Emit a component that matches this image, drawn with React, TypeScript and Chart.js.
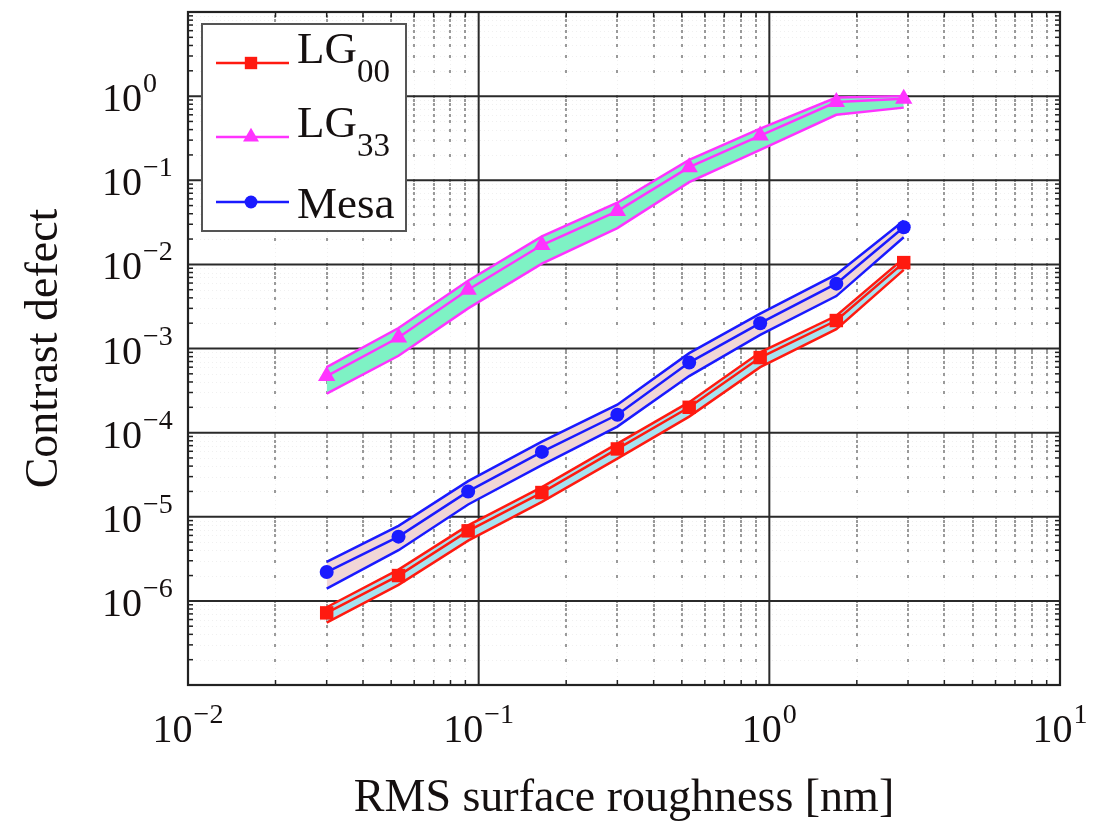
import React, { useEffect, useRef } from 'react';
import { Chart, registerables } from 'chart.js';

Chart.register(...registerables);

// ---------------- data ----------------
const roughness = [0.03, 0.053, 0.092, 0.165, 0.3, 0.53, 0.93, 1.7, 2.9];

const lg00 = [7.2e-7, 2.0e-6, 6.8e-6, 1.94e-5, 6.4e-5, 2.0e-4, 7.8e-4, 2.15e-3, 1.05e-2];
const lg00Upper = [8.4e-7, 2.35e-6, 7.9e-6, 2.25e-5, 7.4e-5, 2.3e-4, 9.0e-4, 2.45e-3, 1.18e-2];
const lg00Lower = [5.5e-7, 1.55e-6, 5.2e-6, 1.5e-5, 4.9e-5, 1.55e-4, 6.0e-4, 1.7e-3, 8.6e-3];

const lg33 = [4.7e-4, 1.35e-3, 5.0e-3, 1.7e-2, 4.3e-2, 0.143, 0.34, 0.85, 0.93];
const lg33Upper = [6.0e-4, 1.75e-3, 6.4e-3, 2.15e-2, 5.4e-2, 0.175, 0.41, 0.96, 1.0];
const lg33Lower = [2.9e-4, 0.82e-3, 3.0e-3, 1.02e-2, 2.7e-2, 0.095, 0.23, 0.6, 0.73];

const mesa = [2.2e-6, 5.8e-6, 2.0e-5, 5.9e-5, 1.63e-4, 6.8e-4, 2.0e-3, 5.9e-3, 2.76e-2];
const mesaUpper = [2.9e-6, 7.8e-6, 2.65e-5, 7.8e-5, 2.15e-4, 8.8e-4, 2.6e-3, 7.6e-3, 3.3e-2];
const mesaLower = [1.4e-6, 4.0e-6, 1.4e-5, 4.1e-5, 1.18e-4, 4.7e-4, 1.45e-3, 4.2e-3, 2.1e-2];

const seriesNames = ['LG', 'LG', 'Mesa'];
const seriesSubscripts = ['00', '33', ''];
const seriesColors = ['#ff1a10', '#ff33ff', '#1a1aff'];
const bandFills = ['#a6e3f0', '#7ef2c4', '#f1d6d6'];
const pointStyles = ['rect', 'triangle', 'circle'];
const pointRadii = [9.5, 10, 7];

const tickBase = '10';
const xTickValues = [0.01, 0.1, 1, 10];
const xTickExponents = ['−2', '−1', '0', '1'];
const yTickValues = [1e-6, 1e-5, 1e-4, 1e-3, 1e-2, 1e-1, 1];
const yTickExponents = ['−6', '−5', '−4', '−3', '−2', '−1', '0'];

const xTitle = 'RMS surface roughness [nm]';
const yTitle = 'Contrast defect';

const FONT = '"Liberation Serif", "DejaVu Serif", serif';
const TEXT = '#151010';

// minor grid values (2..9 within each decade)
function minorValues(fromExp: number, toExp: number): number[] {
  const out: number[] = [];
  for (let e = fromExp; e < toExp; e++) {
    for (let m = 2; m <= 9; m++) out.push(parseFloat((m * Math.pow(10, e)).toPrecision(3)));
  }
  return out;
}
const xMinor = minorValues(-2, 1);
const yMinor = minorValues(-7, 1);

function drawPower(ctx: any, exp: string, x: number, baseline: number, center: boolean) {
  ctx.font = `40px ${FONT}`;
  const w1 = ctx.measureText(tickBase).width;
  ctx.font = `28px ${FONT}`;
  const w2 = ctx.measureText(exp).width;
  const start = center ? x - (w1 + 1 + w2) / 2 : x;
  ctx.textAlign = 'left';
  ctx.textBaseline = 'alphabetic';
  ctx.fillStyle = TEXT;
  ctx.font = `40px ${FONT}`;
  ctx.fillText(tickBase, start, baseline);
  ctx.font = `28px ${FONT}`;
  ctx.fillText(exp, start + w1 + 1, baseline - 19);
}

const gridPlugin = {
  id: 'customGrid',
  beforeDatasetsDraw(chart: any) {
    const { ctx, chartArea: a, scales } = chart;
    const xs = scales.x;
    const ys = scales.y;
    ctx.save();
    ctx.beginPath();
    ctx.rect(a.left, a.top, a.right - a.left, a.bottom - a.top);
    ctx.clip();
    ctx.strokeStyle = 'rgba(0,0,0,0.06)';
    ctx.lineWidth = 1;
    ctx.setLineDash([1, 3]);
    xMinor.forEach((v) => {
      const px = Math.round(xs.getPixelForValue(v)) + 0.5;
      ctx.beginPath();
      ctx.moveTo(px, a.top);
      ctx.lineTo(px, a.bottom);
      ctx.stroke();
    });
    yMinor.forEach((v) => {
      const py = Math.round(ys.getPixelForValue(v)) + 0.5;
      ctx.beginPath();
      ctx.moveTo(a.left, py);
      ctx.lineTo(a.right, py);
      ctx.stroke();
    });
    ctx.setLineDash([]);
    ctx.fillStyle = '#9a9a9a';
    const allY = yMinor.concat(yTickValues);
    xMinor.forEach((vx) => {
      allY.forEach((vy) => {
        const px = Math.round(xs.getPixelForValue(vx));
        const py = Math.round(ys.getPixelForValue(vy));
        ctx.fillRect(px - 1, py - 1, 2, 3);
      });
    });
    ctx.strokeStyle = '#2a2a2a';
    ctx.lineWidth = 2;
    xTickValues.forEach((v) => {
      const px = xs.getPixelForValue(v);
      ctx.beginPath();
      ctx.moveTo(px, a.top);
      ctx.lineTo(px, a.bottom);
      ctx.stroke();
    });
    yTickValues.forEach((v) => {
      const py = ys.getPixelForValue(v);
      ctx.beginPath();
      ctx.moveTo(a.left, py);
      ctx.lineTo(a.right, py);
      ctx.stroke();
    });
    ctx.restore();
  },
  afterDatasetsDraw(chart: any) {
    const { ctx, chartArea: a, scales } = chart;
    const xs = scales.x;
    const ys = scales.y;
    ctx.save();
    ctx.strokeStyle = '#222';
    ctx.lineWidth = 1.5;
    const tick = (x1: number, y1: number, x2: number, y2: number) => {
      ctx.beginPath();
      ctx.moveTo(x1, y1);
      ctx.lineTo(x2, y2);
      ctx.stroke();
    };
    xMinor.forEach((v) => {
      const px = xs.getPixelForValue(v);
      tick(px, a.top, px, a.top + 5);
      tick(px, a.bottom, px, a.bottom - 5);
    });
    yMinor.forEach((v) => {
      const py = ys.getPixelForValue(v);
      tick(a.left, py, a.left + 5, py);
      tick(a.right, py, a.right - 5, py);
    });
    ctx.strokeStyle = '#222';
    ctx.lineWidth = 2.2;
    ctx.strokeRect(a.left, a.top, a.right - a.left, a.bottom - a.top);
    ctx.restore();
  },
  afterDraw(chart: any) {
    const { ctx, scales } = chart;
    const xs = scales.x;
    const ys = scales.y;
    // tick labels
    ctx.save();
    xTickValues.forEach((v, i) => {
      drawPower(ctx, xTickExponents[i], xs.getPixelForValue(v), 742, true);
    });
    yTickValues.forEach((v, i) => {
      drawPower(ctx, yTickExponents[i], 102, ys.getPixelForValue(v) + 15, false);
    });
    ctx.restore();

    // legend
    ctx.save();
    const bx = 202, by = 24, bw = 204, bh = 207;
    ctx.fillStyle = '#ffffff';
    ctx.fillRect(bx, by, bw, bh);
    ctx.strokeStyle = '#555';
    ctx.lineWidth = 2;
    ctx.strokeRect(bx, by, bw, bh);
    const rowsY = [63, 137, 202];
    const baselines = [63, 137, 218];
    seriesNames.forEach((name, i) => {
      const yy = rowsY[i];
      ctx.strokeStyle = seriesColors[i];
      ctx.lineWidth = 2.5;
      ctx.beginPath();
      ctx.moveTo(216, yy);
      ctx.lineTo(289, yy);
      ctx.stroke();
      ctx.fillStyle = seriesColors[i];
      const r = pointRadii[i] * 0.92;
      const cx = 251;
      if (pointStyles[i] === 'rect') {
        const s = r * Math.SQRT1_2;
        ctx.fillRect(cx - s, yy - s, 2 * s, 2 * s);
      } else if (pointStyles[i] === 'triangle') {
        ctx.beginPath();
        ctx.moveTo(cx, yy - r);
        ctx.lineTo(cx + r * 0.866, yy + r * 0.5);
        ctx.lineTo(cx - r * 0.866, yy + r * 0.5);
        ctx.closePath();
        ctx.fill();
      } else {
        ctx.beginPath();
        ctx.arc(cx, yy, r, 0, Math.PI * 2);
        ctx.fill();
      }
      ctx.fillStyle = TEXT;
      ctx.textAlign = 'left';
      ctx.textBaseline = 'alphabetic';
      ctx.font = `45px ${FONT}`;
      ctx.fillText(name, 297, baselines[i]);
      if (seriesSubscripts[i]) {
        const w = ctx.measureText(name).width;
        ctx.font = `33px ${FONT}`;
        ctx.fillText(seriesSubscripts[i], 297 + w, baselines[i] + 19);
      }
    });
    ctx.restore();
  },
};

function band(idx: number, center: number[], upper: number[], lower: number[]) {
  const color = seriesColors[idx];
  const label = seriesNames[idx] + seriesSubscripts[idx];
  return [
    {
      label: label + ' upper',
      data: roughness.map((r, i) => ({ x: r, y: upper[i] })),
      borderColor: color,
      borderWidth: 2.5,
      pointRadius: 0,
      fill: false,
      order: 2,
    },
    {
      label: label + ' lower',
      data: roughness.map((r, i) => ({ x: r, y: lower[i] })),
      borderColor: color,
      borderWidth: 2.5,
      pointRadius: 0,
      fill: '-1',
      backgroundColor: bandFills[idx],
      order: 2,
    },
    {
      label,
      data: roughness.map((r, i) => ({ x: r, y: center[i] })),
      borderColor: color,
      backgroundColor: color,
      borderWidth: 2.5,
      pointStyle: pointStyles[idx],
      pointRadius: pointRadii[idx],
      pointBackgroundColor: color,
      pointBorderColor: color,
      pointBorderWidth: 0,
      fill: false,
      order: 1,
    },
  ];
}

export default function App() {
  const ref = useRef<HTMLCanvasElement | null>(null);
  useEffect(() => {
    document.body.style.margin = '0';
    const canvas = ref.current;
    if (!canvas) return;
    const chart = new Chart(canvas, {
      type: 'line',
      data: {
        datasets: [
          ...band(0, lg00, lg00Upper, lg00Lower),
          ...band(1, lg33, lg33Upper, lg33Lower),
          ...band(2, mesa, mesaUpper, mesaLower),
        ] as any,
      },
      options: {
        responsive: false,
        animation: false,
        devicePixelRatio: 1,
        layout: { padding: { top: 12, right: 55, left: 0, bottom: 0 } },
        elements: { line: { tension: 0 } },
        plugins: {
          legend: { display: false },
          tooltip: { enabled: false },
        },
        scales: {
          x: {
            type: 'logarithmic',
            min: 0.01,
            max: 10,
            afterBuildTicks: (scale: any) => {
              scale.ticks = xTickValues.map((v) => ({ value: v }));
            },
            afterFit: (scale: any) => {
              scale.height = 827 - 685;
              scale.paddingLeft = 0;
              scale.paddingRight = 0;
            },
            grid: { display: false, drawTicks: false },
            border: { display: false },
            ticks: { display: false },
            title: {
              display: true,
              text: xTitle,
              color: TEXT,
              font: { family: FONT, size: 46 },
              padding: { top: 0, bottom: 0 },
            },
          },
          y: {
            type: 'logarithmic',
            min: 1e-7,
            max: 10,
            afterBuildTicks: (scale: any) => {
              scale.ticks = yTickValues.map((v) => ({ value: v }));
            },
            afterFit: (scale: any) => {
              scale.width = 188;
              scale.paddingTop = 0;
              scale.paddingBottom = 0;
            },
            grid: { display: false, drawTicks: false },
            border: { display: false },
            ticks: { display: false },
            title: {
              display: true,
              text: yTitle,
              color: TEXT,
              font: { family: FONT, size: 46 },
              padding: { top: 17, bottom: 0 },
            },
          },
        },
      } as any,
      plugins: [gridPlugin],
    });
    return () => chart.destroy();
  }, []);
  return (
    <div style={{ width: 1115, height: 827, overflow: 'hidden' }}>
      <canvas ref={ref} width={1115} height={827} style={{ display: 'block' }} />
    </div>
  );
}
